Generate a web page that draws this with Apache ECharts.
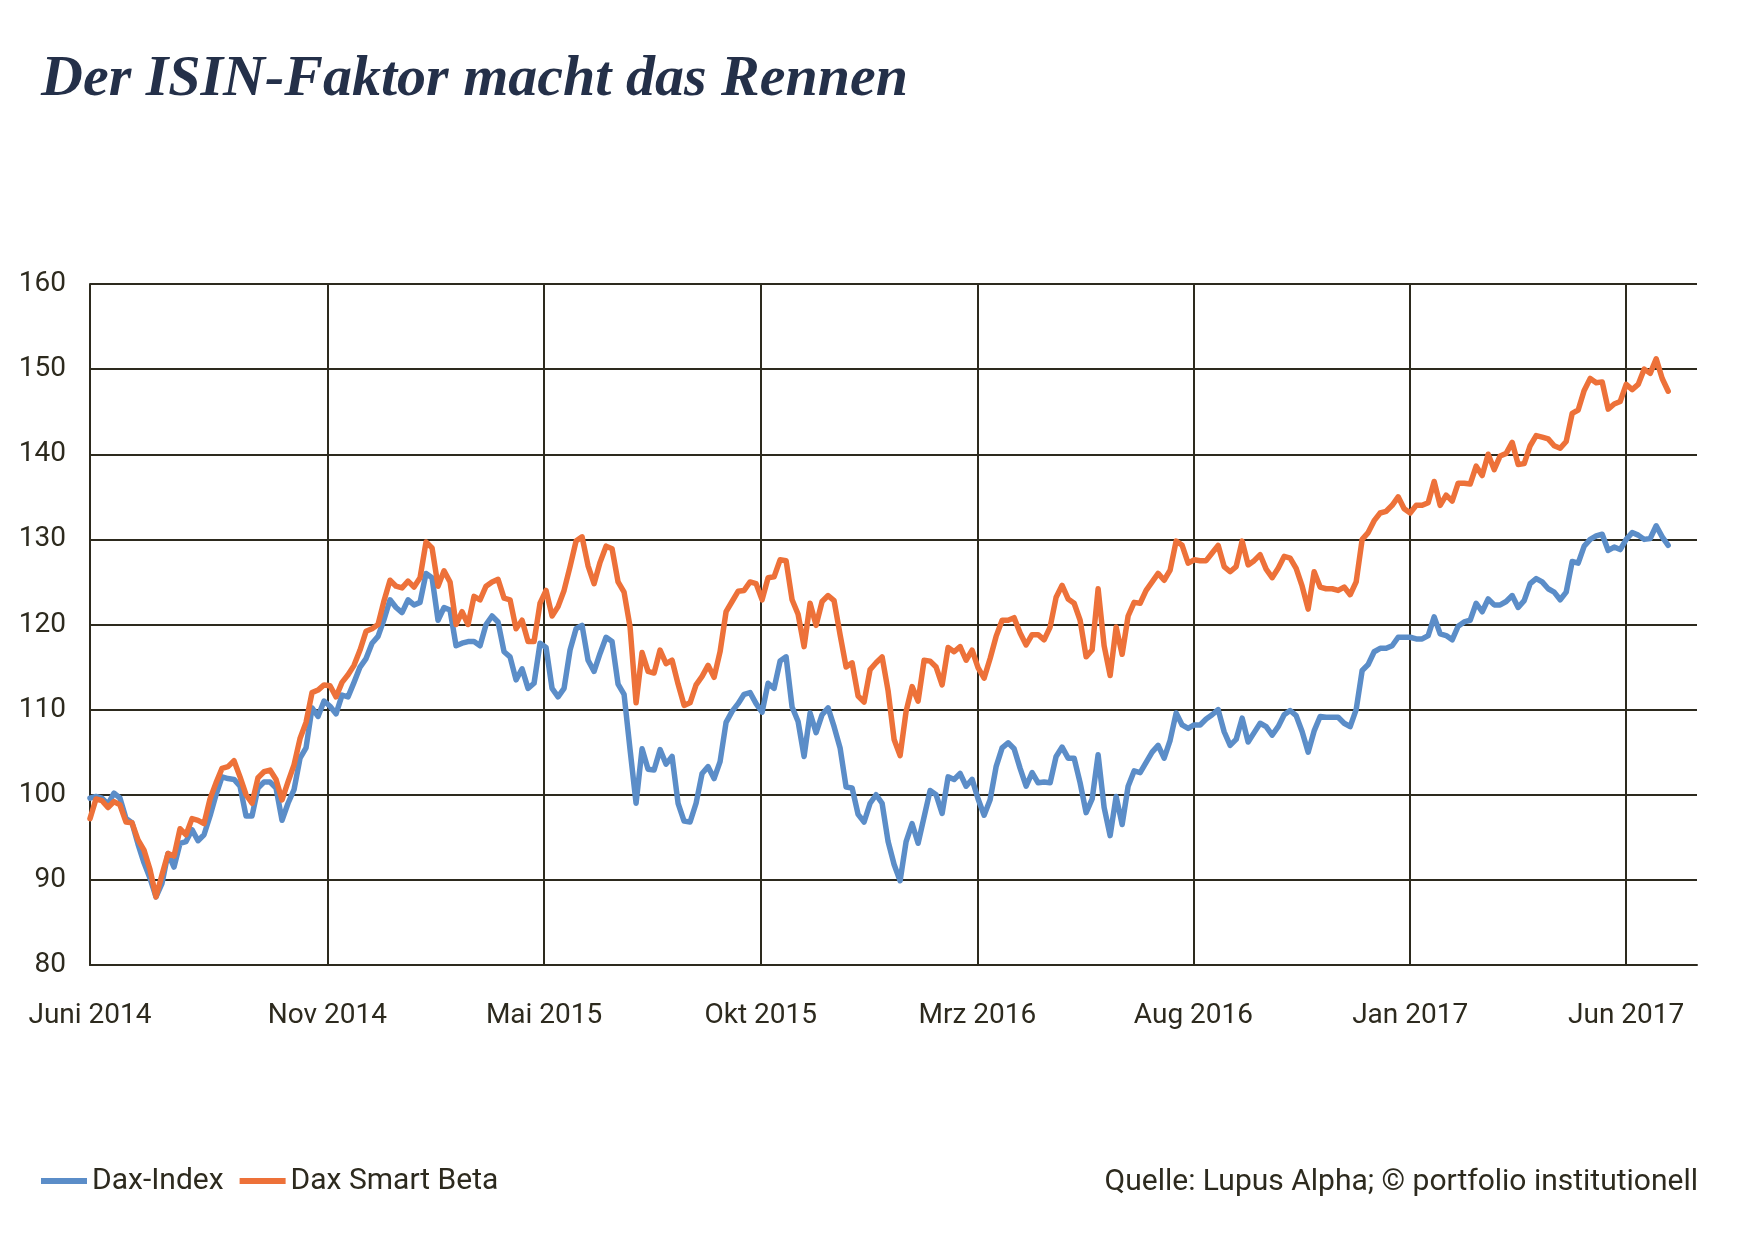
<!DOCTYPE html>
<html>
<head>
<meta charset="utf-8">
<script src="https://cdn.jsdelivr.net/npm/echarts@6/dist/echarts.min.js"></script>
<style>
html,body{margin:0;padding:0;background:#ffffff;}
#chart{width:1737px;height:1250px;}
</style>
</head>
<body>
<div id="chart"></div>
<script>
// Tick labels of the time axis and their position in the sample index of the series
const tickLabels = ['Juni 2014', 'Nov 2014', 'Mai 2015', 'Okt 2015', 'Mrz 2016', 'Aug 2016', 'Jan 2017', 'Jun 2017'];
const tickIndex = [0, 39.55, 75.67, 111.78, 147.88, 183.88, 220, 256];
const axisEnd = 267.8;

// Dax-Index (indexed, start = 100)
const daxIndex = [
  99.6, 99.8, 99.6, 98.9, 100.2, 99.6, 97.2, 96.7, 94.2, 92.0,
  90.2, 88.0, 89.6, 93.1, 91.5, 94.3, 94.5, 95.9, 94.6, 95.3,
  97.5, 100.0, 102.1, 101.9, 101.8, 101.0, 97.5, 97.5, 100.8, 101.5,
  101.5, 100.8, 97.0, 99.0, 100.6, 104.3, 105.5, 110.2, 109.2, 111.0,
  110.4, 109.5, 111.7, 111.5, 113.2, 115.0, 116.0, 117.8, 118.6, 120.6,
  122.9, 122.0, 121.4, 122.9, 122.3, 122.6, 126.0, 125.5, 120.5, 122.0,
  121.7, 117.5, 117.8, 118.0, 118.0, 117.5, 120.0, 121.0, 120.3, 116.8,
  116.2, 113.5, 114.8, 112.5, 113.1, 117.8, 117.3, 112.5, 111.5, 112.5,
  117.0, 119.5, 119.9, 115.8, 114.5, 116.6, 118.5, 118.0, 113.0, 111.8,
  105.3, 99.0, 105.4, 103.0, 102.9, 105.3, 103.6, 104.5, 99.0, 96.9,
  96.8, 99.0, 102.5, 103.3, 101.9, 103.9, 108.5, 109.8, 110.7, 111.8,
  112.0, 110.7, 109.7, 113.1, 112.5, 115.7, 116.2, 110.3, 108.6, 104.5,
  109.6, 107.3, 109.4, 110.2, 108.0, 105.5, 100.9, 100.8, 97.7, 96.8,
  99.0, 100.0, 99.0, 94.5, 91.8, 89.9, 94.5, 96.6, 94.3, 97.4,
  100.5, 100.0, 97.8, 102.1, 101.8, 102.5, 101.0, 101.8, 99.5, 97.6,
  99.4, 103.3, 105.5, 106.1, 105.4, 103.1, 101.0, 102.6, 101.4, 101.5,
  101.4, 104.5, 105.6, 104.3, 104.3, 101.4, 97.9, 99.5, 104.7, 98.5,
  95.2, 99.8, 96.5, 101.0, 102.8, 102.6, 103.8, 105.0, 105.8, 104.3,
  106.4, 109.6, 108.2, 107.8, 108.2, 108.2, 108.9, 109.4, 110.0, 107.4,
  105.8, 106.5, 109.0, 106.2, 107.3, 108.4, 108.0, 107.0, 108.0, 109.4,
  109.9, 109.3, 107.4, 105.0, 107.5, 109.2, 109.1, 109.1, 109.1, 108.4,
  108.0, 110.0, 114.6, 115.3, 116.8, 117.2, 117.2, 117.5, 118.5, 118.5,
  118.5, 118.3, 118.3, 118.7, 120.9, 118.9, 118.7, 118.2, 119.8, 120.3,
  120.5, 122.5, 121.5, 123.0, 122.3, 122.3, 122.7, 123.4, 122.0, 122.8,
  124.8, 125.4, 125.0, 124.2, 123.8, 122.9, 123.8, 127.4, 127.2, 129.2,
  130.0, 130.4, 130.6, 128.7, 129.1, 128.8, 130.0, 130.8, 130.5, 130.0,
  130.1, 131.6, 130.3, 129.3
];

// Dax Smart Beta (indexed, start = 100)
const smartBeta = [
  97.2, 99.5, 99.3, 98.5, 99.2, 98.8, 96.8, 96.7, 94.7, 93.5,
  91.2, 88.0, 90.6, 93.1, 92.8, 96.0, 95.3, 97.2, 97.0, 96.6,
  99.5, 101.4, 103.1, 103.3, 104.0, 102.1, 100.0, 99.0, 102.0, 102.7,
  102.9, 101.8, 99.4, 101.5, 103.5, 106.6, 108.5, 112.0, 112.3, 112.9,
  112.8, 111.5, 113.2, 114.1, 115.2, 117.0, 119.2, 119.5, 120.0, 122.8,
  125.2, 124.5, 124.3, 125.1, 124.4, 125.5, 129.7, 129.0, 124.5, 126.3,
  125.0, 120.0, 121.5, 120.0, 123.3, 122.9, 124.5, 125.0, 125.3, 123.1,
  122.9, 119.5, 120.5, 118.0, 118.0, 122.5, 124.0, 121.0, 122.1, 124.0,
  126.8, 129.8, 130.3, 126.9, 124.8, 127.3, 129.2, 128.9, 125.0, 123.8,
  119.7, 110.8, 116.7, 114.5, 114.3, 117.0, 115.4, 115.8, 113.0, 110.5,
  110.8, 112.9, 113.9, 115.2, 113.8, 116.8, 121.5, 122.7, 123.9, 124.0,
  125.0, 124.8, 122.9, 125.5, 125.6, 127.6, 127.5, 122.9, 121.2, 117.4,
  122.5, 119.9, 122.7, 123.4, 122.8, 118.8, 115.0, 115.5, 111.6, 110.9,
  114.7, 115.5, 116.2, 112.2, 106.5, 104.6, 109.8, 112.7, 111.0, 115.8,
  115.7, 115.0, 112.9, 117.3, 116.8, 117.4, 115.8, 117.0, 114.9, 113.7,
  116.0, 118.6, 120.5, 120.5, 120.8, 119.0, 117.6, 118.8, 118.8, 118.2,
  119.7, 123.2, 124.6, 123.0, 122.5, 120.5, 116.2, 117.0, 124.2, 117.5,
  114.0, 119.7, 116.5, 121.0, 122.6, 122.5, 124.0, 125.0, 126.0, 125.2,
  126.4, 129.8, 129.3, 127.2, 127.6, 127.5, 127.5, 128.4, 129.3, 126.8,
  126.2, 126.8, 129.8, 127.0, 127.5, 128.2, 126.5, 125.5, 126.6, 128.0,
  127.8, 126.6, 124.5, 121.8, 126.2, 124.4, 124.2, 124.2, 124.0, 124.4,
  123.5, 125.0, 130.0, 130.8, 132.2, 133.1, 133.3, 134.0, 135.0, 133.6,
  133.1, 134.0, 134.0, 134.3, 136.8, 134.0, 135.2, 134.5, 136.6, 136.6,
  136.5, 138.6, 137.5, 140.0, 138.2, 139.8, 140.1, 141.4, 138.8, 138.9,
  141.0, 142.2, 142.0, 141.8, 141.0, 140.7, 141.5, 144.8, 145.2, 147.5,
  148.9, 148.4, 148.5, 145.3, 145.9, 146.2, 148.2, 147.6, 148.2, 150.0,
  149.5, 151.2, 148.9, 147.4
];

const seriesNames = ['Dax-Index', 'Dax Smart Beta'];
const yTicks = { min: 80, max: 160, step: 10 };

const ink = '#2d2a1e';
const uiFont = 'Roboto, "Noto Sans", sans-serif';
const blue = '#5b8dc8';
const orange = '#ed7139';

const chart = echarts.init(document.getElementById('chart'), null, { renderer: 'canvas' });

function tickName(v) {
  const k = tickIndex.findIndex(t => Math.abs(t - v) < 0.01);
  return k >= 0 ? tickLabels[k] : '';
}

const option = {
  animation: false,
  backgroundColor: '#ffffff',
  title: {
    text: 'Der ISIN-Faktor macht das Rennen',
    left: 36,
    top: 46,
    textStyle: {
      fontFamily: '"Liberation Serif", "DejaVu Serif", serif',
      fontStyle: 'italic',
      fontWeight: 'bold',
      fontSize: 58,
      color: '#243049'
    }
  },
  grid: { left: 90, right: 40, top: 284, bottom: 285, containLabel: false },
  legend: {
    data: seriesNames,
    left: 36,
    top: 1161,
    icon: 'rect',
    itemWidth: 46,
    itemHeight: 6,
    itemGap: 16,
    textStyle: { fontSize: 30, color: ink, fontFamily: uiFont }
  },
  xAxis: {
    type: 'value',
    min: 0,
    max: axisEnd,
    axisLine: { show: true, lineStyle: { color: ink, width: 2 } },
    axisTick: { show: false, customValues: tickIndex },
    axisLabel: {
      customValues: tickIndex,
      formatter: tickName,
      margin: 37,
      fontSize: 28,
      color: ink,
      fontFamily: uiFont
    },
    splitLine: { show: true, lineStyle: { color: ink, width: 2 } }
  },
  yAxis: {
    type: 'value',
    min: yTicks.min,
    max: yTicks.max,
    interval: yTicks.step,
    axisLine: { show: true, lineStyle: { color: ink, width: 2 } },
    axisTick: { show: false },
    axisLabel: { margin: 24, fontSize: 28, color: ink, fontFamily: uiFont },
    splitLine: { show: true, lineStyle: { color: ink, width: 2 } }
  },
  series: [
    {
      name: seriesNames[0],
      type: 'line',
      data: daxIndex.map((v, i) => [i, v]),
      symbol: 'none',
      showSymbol: false,
      lineStyle: { width: 5.5, color: blue, join: 'round', cap: 'round' },
      itemStyle: { color: blue },
      z: 2
    },
    {
      name: seriesNames[1],
      type: 'line',
      data: smartBeta.map((v, i) => [i, v]),
      symbol: 'none',
      showSymbol: false,
      lineStyle: { width: 5.5, color: orange, join: 'round', cap: 'round' },
      itemStyle: { color: orange },
      z: 3
    }
  ],
  graphic: [
    {
      type: 'text',
      right: 39,
      top: 1167,
      style: {
        text: 'Quelle: Lupus Alpha; © portfolio institutionell',
        fontSize: 30,
        fontFamily: uiFont,
        fill: ink
      }
    }
  ]
};

chart.setOption(option);
</script>
</body>
</html>
